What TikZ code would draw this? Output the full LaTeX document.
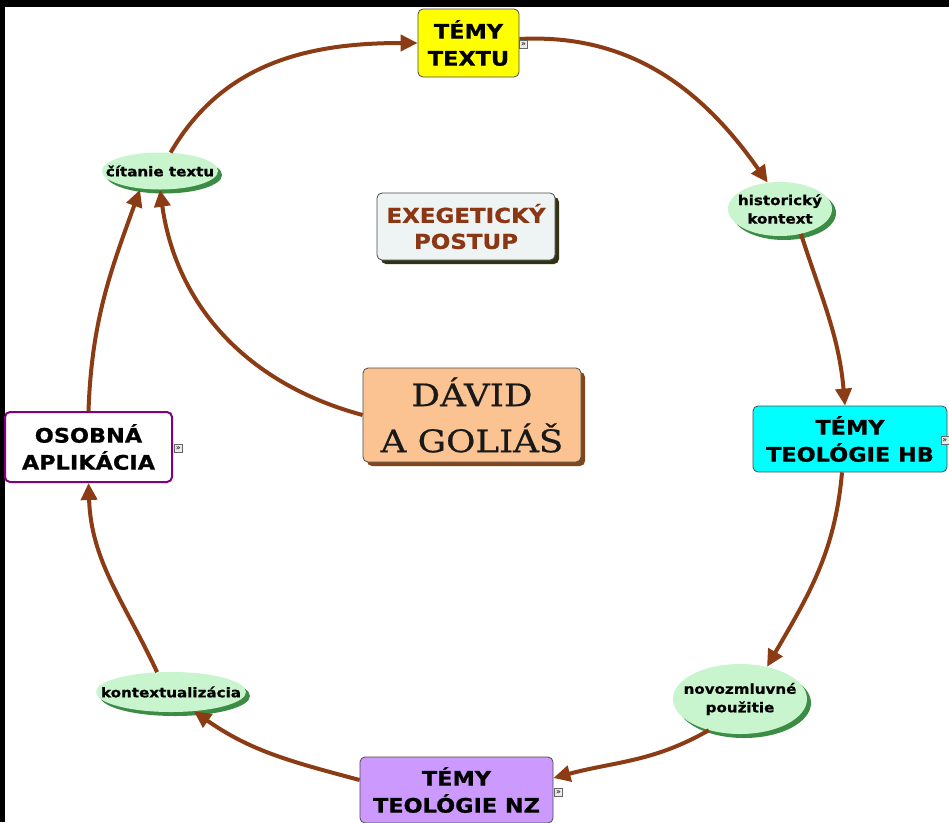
\documentclass[tikz,border=0pt]{standalone}
\usepackage{fontspec}
\usetikzlibrary{arrows.meta,shapes.geometric,shadows}
\newfontfamily\vb{DejaVu Sans}[FakeStretch=1.12,FakeBold=0.8]
\newfontfamily\unc{DejaVu Serif}[FakeStretch=1.15,FakeBold=0.6]
\newfontfamily\icf{DejaVu Sans}
\definecolor{arr}{RGB}{140,60,20}
\definecolor{exetext}{RGB}{140,55,20}
\definecolor{ovalfill}{RGB}{200,245,205}
\definecolor{ovalshadow}{RGB}{60,140,70}
\definecolor{exefill}{RGB}{238,243,243}
\definecolor{exeshadow}{RGB}{50,50,20}
\definecolor{davidfill}{RGB}{250,195,145}
\definecolor{davidshadow}{RGB}{130,70,30}
\definecolor{nzfill}{RGB}{204,153,255}
\definecolor{hbfill}{RGB}{0,255,255}
\definecolor{yfill}{RGB}{255,255,0}
\definecolor{osobborder}{RGB}{128,0,128}
\begin{document}
\begin{tikzpicture}[x=1pt,y=1pt,
  box/.style={draw=black!70, line width=0.8pt, rounded corners=5pt, align=center, inner sep=0pt,
    font=\vb\bfseries\fontsize{20}{27}\selectfont},
  oval/.style={ellipse, fill=ovalfill, inner sep=0pt,
    drop shadow={shadow xshift=4pt,shadow yshift=-4pt,fill=ovalshadow,opacity=1}},
  ovaltext/.style={align=center, inner sep=0pt, font=\vb\bfseries\fontsize{13.5}{18.5}\selectfont},
  link/.style={draw=arr, line width=4pt, -{Triangle[length=17pt,width=16pt]}},
  icon/.style={draw=black!60, fill=black!8, line width=0.5pt, inner sep=0pt, minimum size=8pt,
    font=\icf\fontsize{8}{8}\selectfont, anchor=west}
]
\useasboundingbox (0,0) rectangle (949,-822);
\fill[black] (0,0) rectangle (949,-822);
\fill[white] (5,-7) rectangle (949,-822);

% boxes
\node[box, fill=yfill, minimum width=101pt, minimum height=68pt] (textu) at (468.5,-43) {TÉMY\\TEXTU};
\node[box, fill=exefill, text=exetext, minimum width=178pt, minimum height=67pt,
  font=\vb\bfseries\fontsize{20.5}{26}\selectfont,
  drop shadow={shadow xshift=4pt,shadow yshift=-4pt,fill=exeshadow,opacity=1}] (exe) at (466,-226.5) {EXEGETICKÝ\\POSTUP};
\node[box, fill=davidfill, minimum width=218pt, minimum height=94pt,
  font=\unc\fontsize{31}{46}\selectfont, text=black!90,
  drop shadow={shadow xshift=4pt,shadow yshift=-4pt,fill=davidshadow,opacity=1}] (david) at (472,-415) {DÁVID\\A GOLIÁŠ};
\node[box, draw=osobborder, line width=2pt, fill=white, minimum width=167pt, minimum height=70pt] (osob) at (88.5,-447) {OSOBNÁ\\APLIKÁCIA};
\node[box, fill=hbfill, minimum width=194pt, minimum height=66pt] (hb) at (850,-439) {TÉMY\\TEOLÓGIE HB};
\node[box, fill=nzfill, minimum width=193pt, minimum height=66pt] (nz) at (456.5,-790) {TÉMY\\TEOLÓGIE NZ};

% ovals
\node[oval, minimum width=116pt, minimum height=37pt] (cit) at (160,-171) {};
\node[ovaltext] (citt) at (cit) {čítanie textu};
\node[oval, minimum width=104pt, minimum height=54pt] (hist) at (780,-209) {};
\node[ovaltext] (histt) at (hist) {historický\\kontext};
\node[oval, minimum width=134pt, minimum height=70pt] (novo) at (740,-699) {};
\node[ovaltext] (novot) at (novo) {novozmluvné\\použitie};
\node[oval, minimum width=150pt, minimum height=40pt] (kont) at (171,-692) {};
\node[ovaltext] (kontt) at (kont) {kontextualizácia};

% connectors
\draw[link] (cit.60) to[out=60,in=180] (textu.west);
\draw[link] ([yshift=4pt]textu.east) to[out=3,in=125] (hist.115);
\draw[link] (hist.-50) to[out=-72,in=95] ([xshift=-5pt]hb.north);
\draw[link] ([xshift=-8pt]hb.south) to[out=-95,in=60] (novo.50);
\draw[link] (novo.-135) to[out=-150,in=15] ([yshift=12pt]nz.east);
\draw[link] ([yshift=10pt]nz.west) to[out=165,in=-35] (kont.-40);
\draw[link] (kont.125) to[out=115,in=-88] (osob.south);
\draw[link] (osob.north) to[out=88,in=-110] ([xshift=-20pt]cit.south);
\draw[link] (david.west) to[out=165,in=-82] (cit.south);

% small icons
\node[icon] (textuic) at ([yshift=-1pt]textu.east) {»};
\node[icon] (osobic) at ([xshift=1pt,yshift=-1pt]osob.east) {»};
\node[icon, anchor=east] (hbic) at (949,-440) {»};
\node[icon] (nzic) at ([xshift=1pt,yshift=-2pt]nz.east) {»};
\end{tikzpicture}
\end{document}
